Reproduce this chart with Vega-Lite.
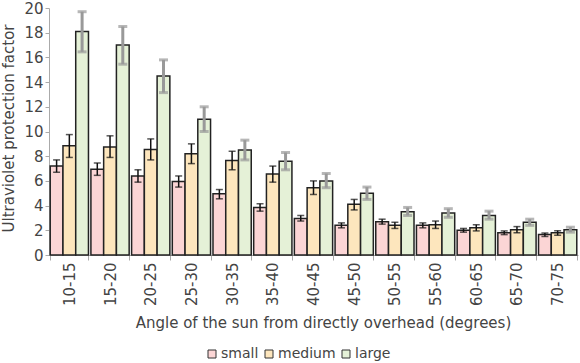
{
  "$schema": "https://vega.github.io/schema/vega-lite/v6.json",
  "width": 529,
  "height": 247,
  "autosize": "none",
  "padding": {"left": 49, "top": 8, "right": 2, "bottom": 108},
  "config": {
    "font": "DejaVu Sans",
    "view": {"stroke": null},
    "axis": {"labelColor": "#444", "titleColor": "#444", "titleFontWeight": "normal", "domainColor": "#aaa", "tickColor": "#aaa", "grid": false, "labelOverlap": false},
    "axisY": {"tickCount": 10, "labelFontSize": 15, "titleFontSize": 15, "tickSize": 4, "labelPadding": 2}
  },
  "data": {"values": [
    {"angle": "10-15", "group": "small", "value": 7.2, "lo": 6.7, "hi": 7.7},
    {"angle": "10-15", "group": "medium", "value": 8.85, "lo": 7.9, "hi": 9.75},
    {"angle": "10-15", "group": "large", "value": 18.1, "lo": 16.45, "hi": 19.7},
    {"angle": "15-20", "group": "small", "value": 6.95, "lo": 6.45, "hi": 7.45},
    {"angle": "15-20", "group": "medium", "value": 8.75, "lo": 7.9, "hi": 9.65},
    {"angle": "15-20", "group": "large", "value": 17.0, "lo": 15.45, "hi": 18.5},
    {"angle": "20-25", "group": "small", "value": 6.4, "lo": 5.9, "hi": 6.9},
    {"angle": "20-25", "group": "medium", "value": 8.55, "lo": 7.7, "hi": 9.4},
    {"angle": "20-25", "group": "large", "value": 14.5, "lo": 13.15, "hi": 15.8},
    {"angle": "25-30", "group": "small", "value": 5.95, "lo": 5.5, "hi": 6.4},
    {"angle": "25-30", "group": "medium", "value": 8.2, "lo": 7.4, "hi": 9.0},
    {"angle": "25-30", "group": "large", "value": 11.0, "lo": 10.0, "hi": 12.0},
    {"angle": "30-35", "group": "small", "value": 4.95, "lo": 4.55, "hi": 5.3},
    {"angle": "30-35", "group": "medium", "value": 7.65, "lo": 6.9, "hi": 8.4},
    {"angle": "30-35", "group": "large", "value": 8.5, "lo": 7.7, "hi": 9.3},
    {"angle": "35-40", "group": "small", "value": 3.85, "lo": 3.55, "hi": 4.15},
    {"angle": "35-40", "group": "medium", "value": 6.55, "lo": 5.9, "hi": 7.2},
    {"angle": "35-40", "group": "large", "value": 7.6, "lo": 6.9, "hi": 8.3},
    {"angle": "40-45", "group": "small", "value": 2.95, "lo": 2.75, "hi": 3.2},
    {"angle": "40-45", "group": "medium", "value": 5.45, "lo": 4.9, "hi": 6.0},
    {"angle": "40-45", "group": "large", "value": 6.0, "lo": 5.45, "hi": 6.6},
    {"angle": "45-50", "group": "small", "value": 2.4, "lo": 2.2, "hi": 2.6},
    {"angle": "45-50", "group": "medium", "value": 4.1, "lo": 3.65, "hi": 4.5},
    {"angle": "45-50", "group": "large", "value": 5.0, "lo": 4.5, "hi": 5.5},
    {"angle": "50-55", "group": "small", "value": 2.7, "lo": 2.5, "hi": 2.9},
    {"angle": "50-55", "group": "medium", "value": 2.4, "lo": 2.15, "hi": 2.65},
    {"angle": "50-55", "group": "large", "value": 3.5, "lo": 3.2, "hi": 3.85},
    {"angle": "55-60", "group": "small", "value": 2.4, "lo": 2.2, "hi": 2.6},
    {"angle": "55-60", "group": "medium", "value": 2.45, "lo": 2.15, "hi": 2.75},
    {"angle": "55-60", "group": "large", "value": 3.4, "lo": 3.05, "hi": 3.75},
    {"angle": "60-65", "group": "small", "value": 2.0, "lo": 1.85, "hi": 2.15},
    {"angle": "60-65", "group": "medium", "value": 2.2, "lo": 1.95, "hi": 2.45},
    {"angle": "60-65", "group": "large", "value": 3.2, "lo": 2.9, "hi": 3.55},
    {"angle": "65-70", "group": "small", "value": 1.8, "lo": 1.65, "hi": 1.95},
    {"angle": "65-70", "group": "medium", "value": 2.05, "lo": 1.8, "hi": 2.3},
    {"angle": "65-70", "group": "large", "value": 2.65, "lo": 2.4, "hi": 2.9},
    {"angle": "70-75", "group": "small", "value": 1.65, "lo": 1.5, "hi": 1.78},
    {"angle": "70-75", "group": "medium", "value": 1.8, "lo": 1.6, "hi": 1.97},
    {"angle": "70-75", "group": "large", "value": 2.05, "lo": 1.85, "hi": 2.25}
  ]},
  "encoding": {
    "x": {
      "field": "angle", "type": "nominal", "sort": null,
      "scale": {"paddingInner": 0.06, "paddingOuter": 0.03},
      "axis": {"title": "Angle of the sun from directly overhead (degrees)", "labelAngle": -90, "labelFontSize": 15, "titleFontSize": 15, "tickBand": "extent", "tickSize": 5, "labelPadding": 2, "titleX": 274, "titleAlign": "center", "titlePadding": 10}
    },
    "xOffset": {"field": "group", "sort": ["small", "medium", "large"], "scale": {"paddingInner": 0, "paddingOuter": 0}}
  },
  "layer": [
    {
      "mark": {"type": "bar", "stroke": "#222", "strokeWidth": 1.5},
      "encoding": {
        "y": {"field": "value", "type": "quantitative", "scale": {"domain": [0, 20]},
          "axis": {"title": "Ultraviolet protection factor", "titleX": -33, "titleY": 120, "titleAngle": -90, "titleAlign": "center"}},
        "color": {"field": "group", "type": "nominal", "sort": ["small", "medium", "large"],
          "scale": {"domain": ["small", "medium", "large"], "range": ["#fbd5d5", "#fde6bd", "#e5f1d7"]},
          "legend": {"title": null, "orient": "none", "legendX": 156, "legendY": 339, "direction": "horizontal", "symbolType": "square", "symbolSize": 64, "symbolStrokeColor": "#333", "symbolStrokeWidth": 1, "labelFontSize": 14, "labelColor": "#444", "columnPadding": 3, "labelOffset": 2}}
      }
    },
    {
      "transform": [{"filter": "datum.group !== 'large'"}],
      "mark": {"type": "rule", "color": "#111", "strokeWidth": 1.5},
      "encoding": {"y": {"field": "lo", "type": "quantitative"}, "y2": {"field": "hi"}}
    },
    {
      "transform": [{"filter": "datum.group !== 'large'"}],
      "mark": {"type": "tick", "color": "#111", "size": 7, "thickness": 1.5},
      "encoding": {"y": {"field": "lo", "type": "quantitative"}}
    },
    {
      "transform": [{"filter": "datum.group !== 'large'"}],
      "mark": {"type": "tick", "color": "#111", "size": 7, "thickness": 1.5},
      "encoding": {"y": {"field": "hi", "type": "quantitative"}}
    },
    {
      "transform": [{"filter": "datum.group === 'large'"}],
      "mark": {"type": "rule", "color": "#999", "strokeWidth": 3},
      "encoding": {"y": {"field": "lo", "type": "quantitative"}, "y2": {"field": "hi"}}
    },
    {
      "transform": [{"filter": "datum.group === 'large'"}],
      "mark": {"type": "tick", "color": "#999", "size": 9, "thickness": 3},
      "encoding": {"y": {"field": "lo", "type": "quantitative"}}
    },
    {
      "transform": [{"filter": "datum.group === 'large'"}],
      "mark": {"type": "tick", "color": "#999", "size": 9, "thickness": 3},
      "encoding": {"y": {"field": "hi", "type": "quantitative"}}
    }
  ]
}
